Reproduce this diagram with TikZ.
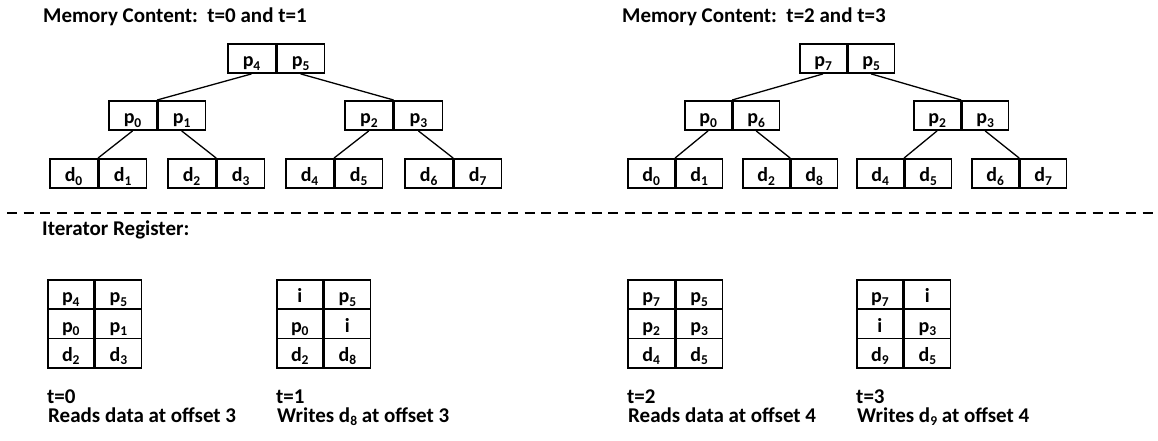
\documentclass[tikz,border=0pt]{standalone}
\usepackage{fontspec}
\setmainfont{Carlito}
\usetikzlibrary{calc}
% lowered small index digit
\newcommand\subn[1]{\raisebox{-3.5pt}{\fontsize{13.5}{13.5}\selectfont #1}}
% two adjacent boxed cells: name, left x, top y, cell width, left text, right text
\newcommand\cellpair[6]{%
  \node[cell, minimum width=#4pt] (#1-l) at (#2,#3) {#5};
  \node[cell, minimum width=#4pt] (#1-r) at (#1-l.north east) {#6};}
\begin{document}
\begin{tikzpicture}[x=1pt,y=-1pt,
  cell/.style={draw, line width=1.6pt, minimum height=29.3pt, inner sep=0pt,
    anchor=north west, text height=18pt, text depth=1.3pt,
    font=\bfseries\fontsize{20}{20}\selectfont},
  label/.style={anchor=base west, inner sep=0pt,
    font=\bfseries\fontsize{21}{21}\selectfont},
  link/.style={line width=1.3pt}]
\useasboundingbox (0,0) rectangle (1158,440);

% ---- memory content, t=0 and t=1
\node[label] (title1) at (43,22) {Memory Content:\ \ t=0 and t=1};
\cellpair{A}{227}{43}{47.5}{p\subn{4}}{p\subn{5}}
\cellpair{B}{108}{100}{47.5}{p\subn{0}}{p\subn{1}}
\cellpair{C}{344}{100}{48}{p\subn{2}}{p\subn{3}}
\cellpair{D}{49}{158}{47.5}{d\subn{0}}{d\subn{1}}
\cellpair{E}{167}{158}{47.5}{d\subn{2}}{d\subn{3}}
\cellpair{F}{285}{158}{47.5}{d\subn{4}}{d\subn{5}}
\cellpair{G}{404}{158}{47.5}{d\subn{6}}{d\subn{7}}
\draw[link] (A-l.south) -- (B-l.north east);
\draw[link] (A-r.south) -- (C-l.north east);
\draw[link] (B-l.south) -- (D-l.north east);
\draw[link] (B-r.south) -- (E-l.north east);
\draw[link] (C-l.south) -- (F-l.north east);
\draw[link] (C-r.south) -- (G-l.north east);

% ---- memory content, t=2 and t=3
\node[label] (title2) at (622,22) {Memory Content:\ \ t=2 and t=3};
\cellpair{H}{799}{43}{46.5}{p\subn{7}}{p\subn{5}}
\cellpair{I}{684}{100}{46.5}{p\subn{0}}{p\subn{6}}
\cellpair{J}{913}{100}{46.5}{p\subn{2}}{p\subn{3}}
\cellpair{K}{627}{158}{46.5}{d\subn{0}}{d\subn{1}}
\cellpair{L}{742}{158}{46.5}{d\subn{2}}{d\subn{8}}
\cellpair{M}{856}{158}{46.5}{d\subn{4}}{d\subn{5}}
\cellpair{N}{971}{158}{46.5}{d\subn{6}}{d\subn{7}}
\draw[link] (H-l.south) -- (I-l.north east);
\draw[link] (H-r.south) -- (J-l.north east);
\draw[link] (I-l.south) -- (K-l.north east);
\draw[link] (I-r.south) -- (L-l.north east);
\draw[link] (J-l.south) -- (M-l.north east);
\draw[link] (J-r.south) -- (N-l.north east);

% ---- separator
\coordinate (sepL) at (7,213);
\coordinate (sepR) at (1158,213);
\draw[line width=2.2pt, dash pattern=on 10pt off 6.7pt] (sepL) -- (sepR);

% ---- iterator register snapshots
\node[label] (reg) at (42,235) {Iterator Register:};

\cellpair{R0a}{47}{279}{46}{p\subn{4}}{p\subn{5}}
\cellpair{R0b}{47}{308.3}{46}{p\subn{0}}{p\subn{1}}
\cellpair{R0c}{47}{337.6}{46}{d\subn{2}}{d\subn{3}}
\node[label] (t0) at (47,403) {t=0};
\node[label] (c0) at (48,422) {Reads data at offset 3};

\cellpair{R1a}{276}{279}{46}{i}{p\subn{5}}
\cellpair{R1b}{276}{308.3}{46}{p\subn{0}}{i}
\cellpair{R1c}{276}{337.6}{46}{d\subn{2}}{d\subn{8}}
\node[label] (t1) at (276,403) {t=1};
\node[label] (c1) at (277,422) {Writes d\subn{8} at offset 3};

\cellpair{R2a}{627}{279}{46.5}{p\subn{7}}{p\subn{5}}
\cellpair{R2b}{627}{308.3}{46.5}{p\subn{2}}{p\subn{3}}
\cellpair{R2c}{627}{337.6}{46.5}{d\subn{4}}{d\subn{5}}
\node[label] (t2) at (627,403) {t=2};
\node[label] (c2) at (628,422) {Reads data at offset 4};

\cellpair{R3a}{856}{279}{46}{p\subn{7}}{i}
\cellpair{R3b}{856}{308.3}{46}{i}{p\subn{3}}
\cellpair{R3c}{856}{337.6}{46}{d\subn{9}}{d\subn{5}}
\node[label] (t3) at (856,403) {t=3};
\node[label] (c3) at (857,422) {Writes d\subn{9} at offset 4};
\end{tikzpicture}
\end{document}
